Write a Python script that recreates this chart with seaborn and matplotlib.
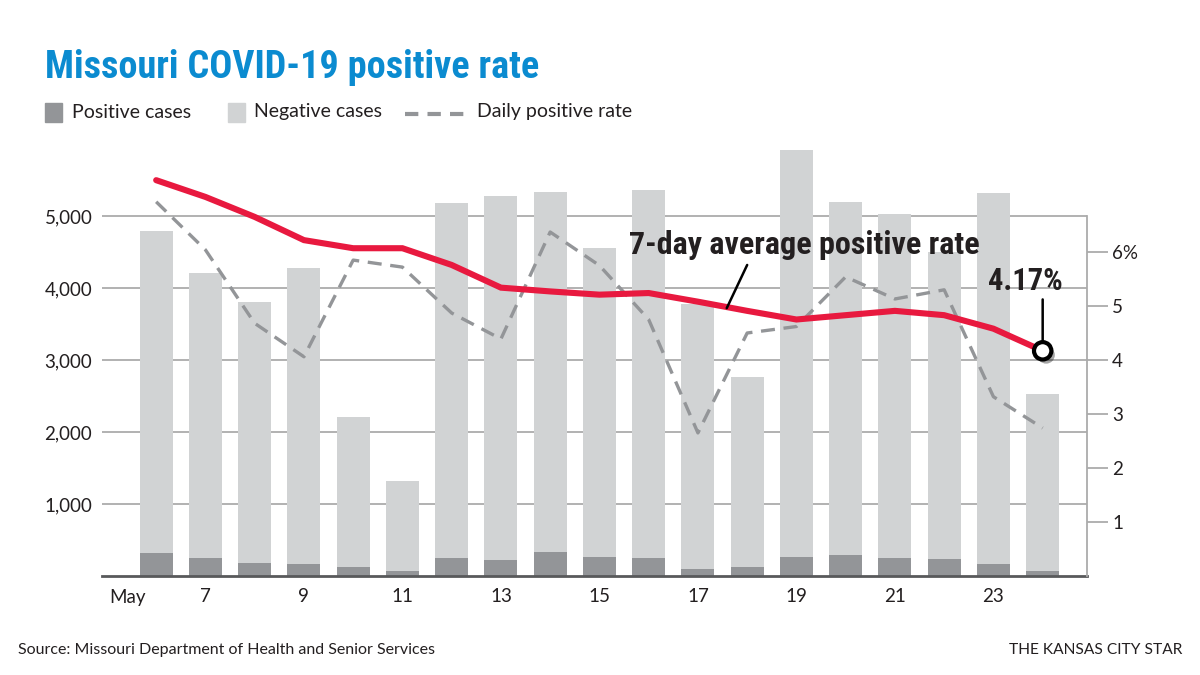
import numpy as np
import pandas as pd
import matplotlib
matplotlib.use("Agg")
import matplotlib.pyplot as plt
import matplotlib.patches as mpatches
import matplotlib.lines as mlines
import matplotlib.patheffects as pe
from matplotlib.transforms import ScaledTranslation
from matplotlib import font_manager
import seaborn as sns

# ---- data ----
days = [6, 7, 8, 9, 10, 11, 12, 13, 14, 15, 16, 17, 18, 19, 20, 21, 22, 23, 24]
positive = [324, 255, 181, 171, 125, 74, 245, 227, 333, 259, 250, 97, 120, 269, 287, 250, 241, 171, 65]
negative = [4466, 3958, 3629, 4102, 2088, 1250, 4931, 5051, 5000, 4296, 5111, 3683, 2644, 5648, 4912, 4773, 4259, 5153, 2458]
daily_rate = [6.93, 6.04, 4.68, 4.06, 5.85, 5.72, 4.87, 4.39, 6.37, 5.75, 4.75, 2.65, 4.5, 4.62, 5.54, 5.13, 5.3, 3.32, 2.74]
avg7_rate = [7.33, 7.02, 6.65, 6.22, 6.07, 6.07, 5.76, 5.34, 5.27, 5.21, 5.24, 5.08, 4.91, 4.75, 4.83, 4.91, 4.83, 4.58, 4.17]
xtick_days = [6, 7, 9, 11, 13, 15, 17, 19, 21, 23]
xtick_labels = ["May", "7", "9", "11", "13", "15", "17", "19", "21", "23"]
left_ticks = [1000, 2000, 3000, 4000, 5000]
left_labels = ["1,000", "2,000", "3,000", "4,000", "5,000"]
right_ticks = [1, 2, 3, 4, 5, 6]
right_labels = ["1", "2", "3", "4", "5", "6%"]

df = pd.DataFrame({"day": days, "positive": positive, "negative": negative,
                   "daily": daily_rate, "avg7": avg7_rate})
df["total"] = df["positive"] + df["negative"]

# ---- style ----
sns.set_theme(style="white")
plt.rcParams["font.family"] = ["Lato", "DejaVu Sans"]
TXT = "#231f20"
LIGHT = "#d1d3d4"
DARK = "#939598"
GRID = "#ababab"
RED = "#e8193f"
BLUE = "#0b8bd0"

installed = {f.name for f in font_manager.fontManager.ttflist}
NARROW = [f for f in ["Roboto Condensed", "Liberation Sans Narrow", "Open Sans Condensed",
                      "Roboto", "DejaVu Sans"] if f in installed][:1] + ["DejaVu Sans"]

fig = plt.figure(figsize=(12, 6.75), dpi=100)
ax = fig.add_axes([102 / 1200, 1 - 576 / 675, (1087 - 102) / 1200, 432 / 675])

sns.barplot(data=df, x="day", y="total", native_scale=True, color=LIGHT,
            saturation=1, width=0.67, errorbar=None, ax=ax, linewidth=0, zorder=2)
sns.barplot(data=df, x="day", y="positive", native_scale=True, color=DARK,
            saturation=1, width=0.67, errorbar=None, ax=ax, linewidth=0, zorder=2)

ax.set_xlim(4.9, 24.9)
ax.set_ylim(0, 6000)
ax.set_yticks(left_ticks)
ax.set_yticklabels(left_labels)
ax.set_xticks(xtick_days)
ax.set_xticklabels(xtick_labels)
ax.set_xlabel("")
ax.set_ylabel("")
ax.yaxis.grid(True, color=GRID, linewidth=1.3, zorder=0)
ax.xaxis.grid(False)
ax.set_axisbelow(True)
ax.tick_params(axis="y", length=0, pad=7, labelsize=13.5, labelcolor=TXT)
ax.tick_params(axis="x", length=0, pad=9, labelsize=13.5, labelcolor=TXT)
for s in ["left", "top", "right"]:
    ax.spines[s].set_visible(False)
ax.spines["bottom"].set_color("#58595b")
ax.spines["bottom"].set_linewidth(2)
may = ax.get_xticklabels()[0]
may.set_transform(may.get_transform() + ScaledTranslation(-0.29, 0, fig.dpi_scale_trans))

# ---- right axis: rates ----
ax2 = ax.twinx()
ax2.set_ylim(0, 8)
sns.lineplot(data=df, x="day", y="daily", ax=ax2, color=DARK, linewidth=2.4)
ax2.lines[-1].set_dashes([4.2, 2.6])
sns.lineplot(data=df, x="day", y="avg7", ax=ax2, color=RED, linewidth=4.4)
ax2.lines[-1].set_solid_capstyle("round")
ax2.lines[-1].set_solid_joinstyle("miter")
ax2.plot([days[-1]], [avg7_rate[-1]], marker="o", markersize=12.5,
         markerfacecolor="white", markeredgecolor="black", markeredgewidth=3,
         linestyle="none", zorder=5,
         path_effects=[pe.SimplePatchShadow(offset=(2.5, -3), shadow_rgbFace="black", alpha=0.35),
                       pe.Normal()])
ax2.set_xlabel("")
ax2.set_ylabel("")
ax2.set_yticks(right_ticks)
ax2.set_yticklabels(right_labels)
ax2.tick_params(axis="y", length=15, width=1.3, color=GRID, pad=3,
                labelsize=13.5, labelcolor=TXT)
for s in ["left", "top", "bottom"]:
    ax2.spines[s].set_visible(False)
ax2.spines["right"].set_bounds(0, 5000 / 750)
ax2.spines["right"].set_color(GRID)
ax2.spines["right"].set_linewidth(1.3)
ax2.grid(False)

# annotations
ax2.annotate("", xy=(days[-1], avg7_rate[-1]), xytext=(0, 37), textcoords="offset points",
             arrowprops=dict(arrowstyle="-", color="black", lw=1.8, shrinkA=0, shrinkB=6))
ax2.annotate("4.17%", xy=(days[-1], avg7_rate[-1]), xytext=(-12.5, 50),
             textcoords="offset points", ha="center", va="center",
             fontsize=22, fontweight="bold", color=TXT, family=NARROW)
ax2.text(15.6, 6.13, "7-day average positive rate", ha="left", va="center",
         fontsize=23, fontweight="bold", color=TXT, family=NARROW)
ax2.annotate("", xy=(17.585, 4.96), xytext=(18.0, 5.76),
             arrowprops=dict(arrowstyle="-", color="black", lw=1.8, shrinkA=0, shrinkB=0))

# ---- title, legend, footer ----
fig.text(45 / 1200, 1 - 68 / 675, "Missouri COVID-19 positive rate", ha="left", va="center",
         fontsize=27.5, fontweight="bold", color=BLUE, family=NARROW)

leg_y = 1 - 112 / 675
sq_w, sq_h = 17 / 1200, 19 / 675
fig.patches.append(mpatches.Rectangle((45 / 1200, leg_y - sq_h / 2), sq_w, sq_h,
                                      transform=fig.transFigure, color=DARK, figure=fig))
fig.text(72 / 1200, leg_y, "Positive cases", ha="left", va="center", fontsize=14, color=TXT)
fig.patches.append(mpatches.Rectangle((228 / 1200, leg_y - sq_h / 2), sq_w, sq_h,
                                      transform=fig.transFigure, color=LIGHT, figure=fig))
fig.text(254 / 1200, leg_y, "Negative cases", ha="left", va="center", fontsize=14, color=TXT)
dl = mlines.Line2D([405 / 1200, 465 / 1200], [leg_y - 2 / 675, leg_y - 2 / 675],
                   transform=fig.transFigure, color=DARK, linewidth=3, figure=fig)
dl.set_dashes([3.2, 2.2])
fig.lines.append(dl)
fig.text(477 / 1200, leg_y, "Daily positive rate", ha="left", va="center", fontsize=14, color=TXT)

fig.text(18 / 1200, 1 - 650 / 675, "Source: Missouri Department of Health and Senior Services",
         ha="left", va="center", fontsize=11.5, color=TXT)
fig.text(1182 / 1200, 1 - 650 / 675, "THE KANSAS CITY STAR",
         ha="right", va="center", fontsize=11.2, color=TXT)

fig.savefig("out.png", dpi=100, facecolor="white")
